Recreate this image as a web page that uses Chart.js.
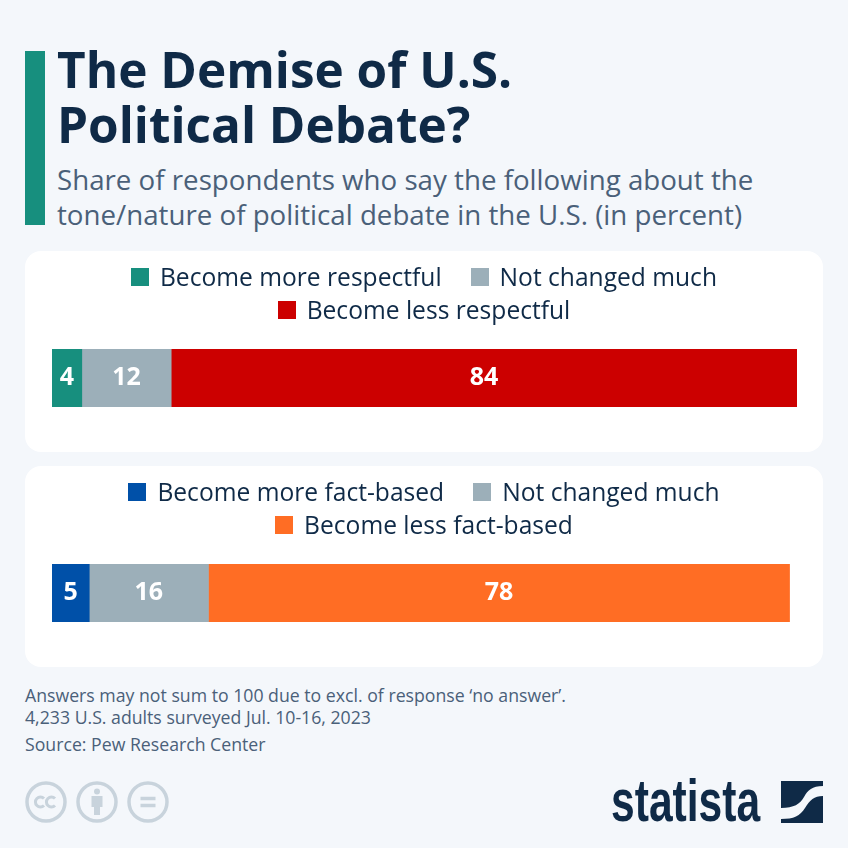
<!DOCTYPE html>
<html>
<head>
<meta charset="utf-8">
<title>The Demise of U.S. Political Debate?</title>
<script src="https://cdn.jsdelivr.net/npm/chart.js@4"></script>
<style>
html, body { margin: 0; padding: 0; background: #f4f7fb; }
body { width: 848px; height: 848px; position: relative; overflow: hidden; font-family: "Open Sans", sans-serif; }
#accent { position: absolute; left: 25px; top: 51px; width: 20px; height: 174px; background: #178f7e; }
h1 { position: absolute; left: 57px; top: 42px; margin: 0; font-size: 49.5px; line-height: 55px; font-weight: 700; color: #0f2a47; }
#subtitle { position: absolute; left: 57px; top: 162px; font-size: 27.7px; line-height: 35px; color: #4a6079; white-space: nowrap; }
.card { position: absolute; left: 25px; width: 798px; height: 201px; background: #fff; border-radius: 16px; }
.card canvas { display: block; }
.legend { position: absolute; left: 0; right: 0; top: 9px; display: flex; flex-wrap: wrap; justify-content: center; color: #0f2a47; font-size: 24.6px; line-height: 33px; }
.legend span { display: flex; align-items: center; margin: 0 14.500px; white-space: nowrap; }
.legend i { display: block; width: 18px; height: 18px; margin-right: 11px; }
#notes { position: absolute; left: 25px; top: 685px; font-size: 17.7px; line-height: 21.500px; color: #4a6079; white-space: nowrap; }
#source { position: absolute; left: 25px; top: 733px; font-size: 17.7px; line-height: 22px; color: #4a6079; }
#cc { position: absolute; left: 25px; top: 780px; }
#wordmark { position: absolute; left: 611px; top: 766px; font-family: "Liberation Sans", sans-serif; font-weight: 700; font-size: 60px; line-height: 70px; color: #0f2a47; transform: scaleX(0.71); transform-origin: left top; }
#mark { position: absolute; left: 781px; top: 781px; }
</style>
</head>
<body>
<div id="accent"></div>
<h1>The Demise of U.S.<br>Political Debate?</h1>
<div id="subtitle">Share of respondents who say the following about the<br>tone/nature of political debate in the U.S. (in percent)</div>

<div class="card" style="top:251px"><canvas id="respectChart" width="798" height="201"></canvas><div class="legend" id="respectLegend"></div></div>
<div class="card" style="top:466px"><canvas id="factChart" width="798" height="201"></canvas><div class="legend" id="factLegend"></div></div>

<div id="notes">Answers may not sum to 100 due to excl. of response ‘no answer’.<br>4,233 U.S. adults surveyed Jul. 10-16, 2023</div>
<div id="source">Source: Pew Research Center</div>

<svg id="cc" width="146" height="44" viewBox="0 0 146 44" fill="none" stroke="#c8d3dc" stroke-width="3.5">
  <circle cx="21" cy="22" r="19"/>
  <circle cx="72" cy="22" r="19"/>
  <circle cx="123" cy="22" r="19"/>
  <path d="M19 18.5a5 5 0 1 0 0 7M30 18.5a5 5 0 1 0 0 7" stroke-width="3"/>
  <circle cx="72" cy="11.5" r="3" fill="#c8d3dc" stroke="none"/>
  <path d="M66.500 16h11v11h-2.500v8h-6v-8h-2.500z" fill="#c8d3dc" stroke="none"/>
  <path d="M115.500 18.500h15M115.500 25.500h15" stroke-width="3.500"/>
</svg>
<div id="wordmark">statista</div>
<svg id="mark" width="42" height="42" viewBox="0 0 42 42">
  <path d="M0 0h42v5c-11 0-15 4-19 11s-10 11-23 11z" fill="#0f2a47"/>
  <path d="M42 15v27H0v-4c13 0 19-3 24-11s9-12 18-12z" fill="#0f2a47"/>
</svg>

<script>
const respectLabels = ["Become more respectful", "Not changed much", "Become less respectful"];
const respectValues = [4, 12, 84];
const respectColors = ["#178f7e", "#9cafb9", "#cc0000"];

const factLabels = ["Become more fact-based", "Not changed much", "Become less fact-based"];
const factValues = [5, 16, 78];
const factColors = ["#0050a8", "#9cafb9", "#ff6d24"];

// no datalabels plugin here, so write the values on the bars ourselves
const barValues = {
	id: "barValues",
	afterDatasetsDraw(chart) {
		const ctx = chart.ctx;
		ctx.save();
		ctx.fillStyle = "#fff";
		ctx.font = "700 25px 'Open Sans'";
		ctx.textAlign = "center";
		ctx.textBaseline = "middle";
		chart.data.datasets.forEach((ds, i) => {
			const bar = chart.getDatasetMeta(i).data[0];
			ctx.fillText(ds.data[0], (bar.x + bar.base) / 2, bar.y);
		});
		ctx.restore();
	},
};

// html legend, the built in one can't space items the way the original does
function makeLegend(id, labels, colors) {
	let html = "";
	labels.forEach((label, i) => {
		html += `<span><i style="background:${colors[i]}"></i>${label}</span>`;
	});
	document.getElementById(id).innerHTML = html;
}

function makeChart(id, labels, values, colors) {
	return new Chart(document.getElementById(id), {
		type: "bar",
		data: {
			labels: [""],
			datasets: labels.map((label, i) => ({
				label: label,
				data: [values[i]],
				backgroundColor: colors[i],
				barThickness: 58,
			})),
		},
		options: {
			indexAxis: "y",
			responsive: false,
			animation: false,
			layout: { padding: { left: 27, right: 26, top: 98, bottom: 45 } },
			scales: {
				x: { display: false, stacked: true, min: 0, max: 100 },
				y: { display: false, stacked: true },
			},
			plugins: {
				tooltip: { enabled: false },
				legend: { display: false },
			},
		},
		plugins: [barValues],
	});
}

makeLegend("respectLegend", respectLabels, respectColors);
makeLegend("factLegend", factLabels, factColors);
makeChart("respectChart", respectLabels, respectValues, respectColors);
makeChart("factChart", factLabels, factValues, factColors);
</script>
</body>
</html>
